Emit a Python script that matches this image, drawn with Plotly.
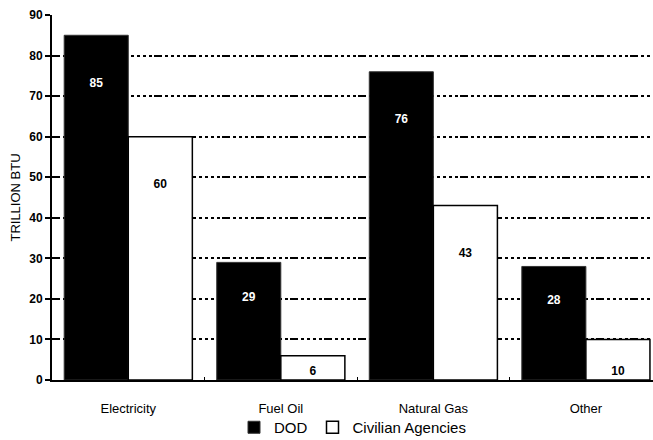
import plotly.graph_objects as go

# Energy use by fuel type, trillion BTU
categories = ["Electricity", "Fuel Oil", "Natural Gas", "Other"]
dod_values = [85, 29, 76, 28]
civilian_values = [60, 6, 43, 10]
y_ticks = [0, 10, 20, 30, 40, 50, 60, 70, 80, 90]

FONT = "Liberation Sans, Arial, sans-serif"


def label_height(v):
    # value labels sit in the upper part of each bar; short bars get them near the base
    if v < 12:
        return 2
    return max(v - 12, 0.7 * v)


fig = go.Figure()
fig.add_trace(go.Bar(
    name="DOD", x=categories, y=dod_values,
    marker=dict(color="black", line=dict(color="#333333", width=1)),
))
fig.add_trace(go.Bar(
    name="Civilian Agencies", x=categories, y=civilian_values,
    marker=dict(color="white", line=dict(color="black", width=1.5)),
))

# value labels inside the bars
for offset, vals, col in ((-0.21, dod_values, "white"), (0.21, civilian_values, "black")):
    fig.add_trace(go.Scatter(
        x=[i + offset for i in range(len(categories))],
        y=[label_height(v) for v in vals],
        text=[str(v) for v in vals],
        mode="text", textposition="middle center",
        textfont=dict(family=FONT, size=12, color=col, weight="bold"),
        showlegend=False, hoverinfo="skip", xaxis="x2",
    ))

grid_dash = "8px,3px,3px,3px,3px,3px,3px,3px,3px,2px"

fig.update_layout(
    width=653, height=440,
    margin=dict(l=52, r=0, t=15, b=60, autoexpand=False),
    paper_bgcolor="white", plot_bgcolor="white",
    barmode="group", bargap=0.16, bargroupgap=0,
    font=dict(family=FONT, size=11, color="black"),
    xaxis=dict(
        range=[-0.5, 3.44], showline=True, linecolor="black", linewidth=1.5,
        ticks="inside", tickson="boundaries", ticklen=3, tickcolor="black",
        showgrid=False, ticklabelstandoff=16,
        tickfont=dict(family=FONT, size=13),
    ),
    xaxis2=dict(range=[-0.5, 3.44], overlaying="x", visible=False),
    yaxis=dict(
        range=[0, 90], tickvals=y_ticks, showline=True, linecolor="black", linewidth=2,
        ticks="outside", ticklen=5, tickwidth=1.5, tickcolor="black",
        showgrid=True, gridcolor="black", gridwidth=1.5, griddash=grid_dash,
        zeroline=False,
        tickfont=dict(family=FONT, size=12, weight="bold"),
        title=dict(text="TRILLION BTU", font=dict(family=FONT, size=13), standoff=6),
    ),
    legend=dict(
        orientation="h", x=0.5, xanchor="center", y=-0.085, yanchor="top",
        font=dict(family=FONT, size=15), itemwidth=30, tracegroupgap=0,
        bgcolor="rgba(0,0,0,0)",
    ),
)

fig.write_html("out.html")
